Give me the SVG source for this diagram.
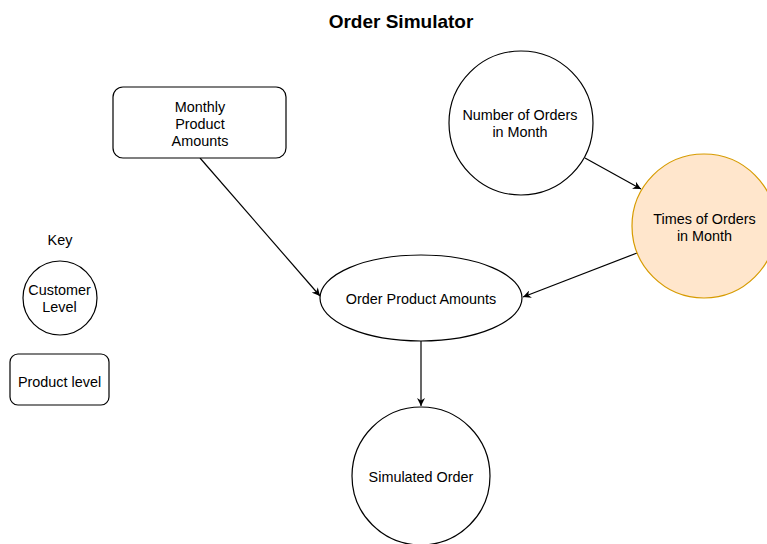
<svg xmlns="http://www.w3.org/2000/svg" width="767" height="544" viewBox="0 0 767 544">
  <defs>
    <style>
      .shape { fill: #ffffff; stroke: #000000; stroke-width: 1.2; }
      .accent { fill: #ffe6cc; stroke: #d79b00; stroke-width: 1.2; }
      .edge { fill: none; stroke: #000000; stroke-width: 1.2; }
      .label { font-family: "Liberation Sans", Arial, sans-serif; font-size: 14.4px; fill: #000000; text-anchor: middle; }
      .title { font-family: "Liberation Sans", Arial, sans-serif; font-size: 19px; font-weight: bold; fill: #000000; text-anchor: middle; }
    </style>
    <marker id="arrow" viewBox="0 0 10 10" refX="10" refY="5" markerWidth="9" markerHeight="8" markerUnits="userSpaceOnUse" orient="auto">
      <path d="M0,0 L10,5 L0,10 L3,5 Z" fill="#000000"/>
    </marker>
  </defs>

  <rect width="767" height="544" fill="#ffffff"/>

  <text class="title" x="401" y="28">Order Simulator</text>

  <!-- connectors -->
  <g id="connectors">
    <line class="edge" x1="200" y1="158" x2="320" y2="296" marker-end="url(#arrow)"/>
    <line class="edge" x1="585" y1="158" x2="641" y2="189" marker-end="url(#arrow)"/>
    <line class="edge" x1="637" y1="253" x2="523" y2="297" marker-end="url(#arrow)"/>
    <line class="edge" x1="421" y1="341" x2="421" y2="406" marker-end="url(#arrow)"/>
  </g>

  <g id="monthly-product-amounts">
    <rect class="shape" x="113" y="87" width="173" height="71" rx="10" ry="10"/>
    <text class="label" x="200" y="111.5">Monthly</text>
    <text class="label" x="200" y="128.5">Product</text>
    <text class="label" x="200" y="145.5">Amounts</text>
  </g>

  <g id="number-of-orders">
    <circle class="shape" cx="521" cy="123" r="72"/>
    <text class="label" x="520" y="119.5">Number of Orders</text>
    <text class="label" x="520" y="136.5">in Month</text>
  </g>

  <g id="times-of-orders">
    <circle class="accent" cx="704" cy="226" r="72"/>
    <text class="label" x="704.5" y="223.5">Times of Orders</text>
    <text class="label" x="704.5" y="240.5">in Month</text>
  </g>

  <g id="order-product-amounts">
    <ellipse class="shape" cx="421" cy="298" rx="101" ry="43"/>
    <text class="label" x="421" y="304">Order Product Amounts</text>
  </g>

  <g id="simulated-order">
    <circle class="shape" cx="421" cy="476" r="69"/>
    <text class="label" x="421" y="482">Simulated Order</text>
  </g>

  <g id="key">
    <text class="label" x="60" y="245">Key</text>
  </g>

  <g id="key-customer-level">
    <circle class="shape" cx="60" cy="298" r="37"/>
    <text class="label" x="59.5" y="295">Customer</text>
    <text class="label" x="59.5" y="311.5">Level</text>
  </g>

  <g id="key-product-level">
    <rect class="shape" x="10" y="354" width="99" height="51" rx="8" ry="8"/>
    <text class="label" x="59.5" y="386.5">Product level</text>
  </g>
</svg>
